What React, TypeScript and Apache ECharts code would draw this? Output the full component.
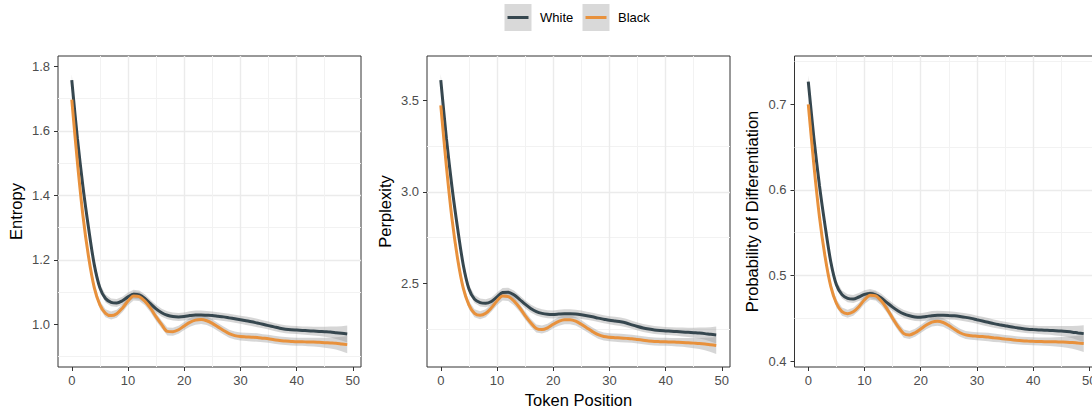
import React, { useEffect, useRef } from "react";
import * as echarts from "echarts";

// ---------------- data ----------------
const tokenPositions = [
  0, 1, 2, 3, 4, 5, 6, 7, 8, 9, 10, 11, 12, 13, 14, 15, 16, 17, 18, 19, 20, 21, 22, 23, 24,
  25, 26, 27, 28, 29, 30, 31, 32, 33, 34, 35, 36, 37, 38, 39, 40, 41, 42, 43, 44, 45, 46, 47, 48, 49,
];

const groups = ["White", "Black"];
const xTicks = [0, 10, 20, 30, 40, 50];

const entropyWhite = [
  1.757, 1.577, 1.425, 1.297, 1.185, 1.113, 1.08, 1.068, 1.066, 1.073, 1.085, 1.093, 1.091, 1.08, 1.064,
  1.048, 1.036, 1.028, 1.024, 1.023, 1.024, 1.027, 1.029, 1.029, 1.028, 1.027, 1.025, 1.023, 1.02, 1.017,
  1.014, 1.011, 1.008, 1.004, 1.0, 0.996, 0.992, 0.988, 0.985, 0.983, 0.982, 0.981, 0.98, 0.979, 0.978,
  0.977, 0.976, 0.974, 0.972, 0.97,
];
const entropyBlack = [
  1.697, 1.503, 1.335, 1.208, 1.114, 1.06, 1.034, 1.027, 1.033, 1.05, 1.072, 1.088, 1.086, 1.072, 1.05,
  1.023, 0.999, 0.978, 0.977, 0.983, 0.995, 1.006, 1.013, 1.015, 1.011, 1.003, 0.992, 0.981, 0.971, 0.965,
  0.962, 0.961, 0.96, 0.959, 0.957, 0.955, 0.952, 0.95, 0.948, 0.947, 0.946, 0.946, 0.945, 0.945, 0.944,
  0.943, 0.942, 0.941, 0.939, 0.937,
];
const entropySE = [
  0.0186, 0.0155, 0.014, 0.013, 0.0124, 0.0124, 0.0124, 0.0124, 0.0124, 0.0124, 0.0133, 0.014, 0.014, 0.0133,
  0.0124, 0.0124, 0.0124, 0.0124, 0.0124, 0.0124, 0.0124, 0.0133, 0.014, 0.014, 0.0133, 0.013, 0.0124, 0.0124,
  0.0124, 0.0124, 0.0124, 0.013, 0.0133, 0.013, 0.0124, 0.0124, 0.0124, 0.0124, 0.0124, 0.0124, 0.0124, 0.0124,
  0.013, 0.0136, 0.0146, 0.0155, 0.0171, 0.0192, 0.0223, 0.0264,
];

const perplexityWhite = [
  3.612, 3.294, 3.025, 2.799, 2.6, 2.47, 2.413, 2.394, 2.39, 2.4, 2.425, 2.449, 2.451, 2.437, 2.412, 2.385,
  2.362, 2.345, 2.335, 2.33, 2.329, 2.331, 2.333, 2.333, 2.331, 2.327, 2.322, 2.316, 2.309, 2.303, 2.297,
  2.293, 2.289, 2.282, 2.272, 2.263, 2.255, 2.249, 2.244, 2.241, 2.239, 2.237, 2.235, 2.233, 2.231, 2.229,
  2.227, 2.224, 2.22, 2.217,
];
const perplexityBlack = [
  3.473, 3.14, 2.852, 2.633, 2.473, 2.381, 2.335, 2.324, 2.335, 2.365, 2.403, 2.43, 2.427, 2.403, 2.367,
  2.323, 2.284, 2.252, 2.246, 2.256, 2.275, 2.291, 2.3, 2.3, 2.292, 2.275, 2.255, 2.235, 2.218, 2.208, 2.204,
  2.202, 2.2, 2.198, 2.196, 2.192, 2.188, 2.184, 2.181, 2.18, 2.179, 2.178, 2.177, 2.176, 2.174, 2.172, 2.17,
  2.167, 2.163, 2.159,
];
const perplexitySE = [
  0.0328, 0.0274, 0.0246, 0.023, 0.0219, 0.0219, 0.0219, 0.0219, 0.0219, 0.0219, 0.0235, 0.0246, 0.0246,
  0.0235, 0.0219, 0.0219, 0.0219, 0.0219, 0.0219, 0.0219, 0.0219, 0.0235, 0.0246, 0.0246, 0.0235, 0.023,
  0.0219, 0.0219, 0.0219, 0.0219, 0.0219, 0.023, 0.0235, 0.023, 0.0219, 0.0219, 0.0219, 0.0219, 0.0219,
  0.0219, 0.0219, 0.0219, 0.023, 0.0241, 0.0257, 0.0274, 0.0301, 0.0339, 0.0394, 0.0465,
];

const probWhite = [
  0.7265, 0.6605, 0.6046, 0.5576, 0.516, 0.489, 0.4776, 0.4733, 0.4725, 0.4748, 0.4778, 0.4788, 0.4772,
  0.4735, 0.4682, 0.463, 0.4585, 0.455, 0.4528, 0.4515, 0.4512, 0.452, 0.453, 0.4535, 0.4535, 0.4533, 0.4528,
  0.452, 0.451, 0.4498, 0.4482, 0.4467, 0.4452, 0.4437, 0.4424, 0.4412, 0.44, 0.439, 0.438, 0.4372, 0.4367,
  0.4363, 0.436, 0.4357, 0.4354, 0.435, 0.4344, 0.4337, 0.4328, 0.432,
];
const probBlack = [
  0.7, 0.629, 0.5679, 0.5214, 0.4871, 0.4675, 0.4577, 0.4553, 0.4575, 0.4635, 0.4715, 0.4768, 0.476, 0.47,
  0.461, 0.45, 0.44, 0.432, 0.4305, 0.433, 0.4375, 0.442, 0.4455, 0.4465, 0.445, 0.4415, 0.437, 0.433, 0.4305,
  0.4295, 0.429, 0.4285, 0.428, 0.4272, 0.4265, 0.4257, 0.425, 0.4243, 0.4237, 0.4233, 0.423, 0.4228, 0.4226,
  0.4225, 0.4224, 0.4222, 0.422, 0.4216, 0.421, 0.4205,
];
const probSE = [
  0.007, 0.0058, 0.0053, 0.0049, 0.0047, 0.0047, 0.0047, 0.0047, 0.0047, 0.0047, 0.005, 0.0053, 0.0053, 0.005,
  0.0047, 0.0047, 0.0047, 0.0047, 0.0047, 0.0047, 0.0047, 0.005, 0.0053, 0.0053, 0.005, 0.0049, 0.0047, 0.0047,
  0.0047, 0.0047, 0.0047, 0.0049, 0.005, 0.0049, 0.0047, 0.0047, 0.0047, 0.0047, 0.0047, 0.0047, 0.0047,
  0.0047, 0.0049, 0.0051, 0.0055, 0.0058, 0.0064, 0.0072, 0.0084, 0.0099,
];

const entropyTicks = [1.0, 1.2, 1.4, 1.6, 1.8];
const perplexityTicks = [2.5, 3.0, 3.5];
const probTicks = [0.4, 0.5, 0.6, 0.7];

// ---------------- styling ----------------
const COLORS: Record<string, string> = { White: "#36474F", Black: "#E8913C" };
const RIBBON = "rgba(153,153,153,0.4)";
const FONT = "'Liberation Sans', Arial, Helvetica, sans-serif";
const GRID_MAJOR = "#EBEBEB";
const GRID_MINOR = "#F2F2F2";
const BORDER = "#333333";

const panels = [
  {
    title: "Entropy",
    values: { White: entropyWhite, Black: entropyBlack } as Record<string, number[]>,
    se: entropySE,
    ticks: entropyTicks,
    interval: 0.2,
    yMin: 0.8676,
    yMax: 1.832,
    left: 58,
  },
  {
    title: "Perplexity",
    values: { White: perplexityWhite, Black: perplexityBlack } as Record<string, number[]>,
    se: perplexitySE,
    ticks: perplexityTicks,
    interval: 0.5,
    yMin: 2.0413,
    yMax: 3.7436,
    left: 427,
  },
  {
    title: "Probability of Differentiation",
    values: { White: probWhite, Black: probBlack } as Record<string, number[]>,
    se: probSE,
    ticks: probTicks,
    interval: 0.1,
    yMin: 0.393,
    yMax: 0.7564,
    left: 794.5,
  },
];

const GRID_TOP = 56;
const GRID_H = 311;
const GRID_W = 303;

function buildOption() {
  const grid: any[] = [];
  const xAxis: any[] = [];
  const yAxis: any[] = [];
  const series: any[] = [];

  panels.forEach((p, i) => {
    grid.push({
      left: p.left,
      top: GRID_TOP,
      width: GRID_W,
      height: GRID_H,
      show: true,
      backgroundColor: "#FFFFFF",
      borderColor: BORDER,
      borderWidth: 1,
      containLabel: false,
      outerBoundsMode: "none",
    });
    xAxis.push({
      type: "value",
      gridIndex: i,
      position: "bottom",
      min: -2.45,
      max: 51.45,
      minInterval: 10,
      maxInterval: 10,
      axisLine: { show: false, onZero: false },
      axisTick: {
        show: true,
        length: 4,
        customValues: xTicks,
        lineStyle: { color: BORDER, width: 1 },
      },
      axisLabel: {
        customValues: xTicks,
        showMinLabel: true,
        showMaxLabel: true,
        color: "#4D4D4D",
        fontSize: 13,
        fontFamily: FONT,
        margin: 7,
        formatter: (v: number) => String(Math.round(v)),
      },
      splitLine: {
        show: true,
        showMinLine: false,
        showMaxLine: false,
        lineStyle: { color: GRID_MAJOR, width: 1.4 },
      },
      minorTick: { show: false, splitNumber: 2 },
      minorSplitLine: { show: true, lineStyle: { color: GRID_MINOR, width: 1 } },
      name: i === 1 ? "Token Position" : "",
      nameLocation: "middle",
      nameGap: 22,
      nameTextStyle: { color: "#000000", fontSize: 16.5, fontFamily: FONT },
    });
    yAxis.push({
      type: "value",
      gridIndex: i,
      position: "left",
      min: p.yMin,
      max: p.yMax,
      minInterval: p.interval,
      maxInterval: p.interval,
      axisLine: { show: false, onZero: false },
      axisTick: {
        show: true,
        length: 4,
        customValues: p.ticks,
        lineStyle: { color: BORDER, width: 1 },
      },
      axisLabel: {
        customValues: p.ticks,
        color: "#4D4D4D",
        fontSize: 13,
        fontFamily: FONT,
        margin: 8,
        formatter: (v: number) => v.toFixed(1),
      },
      splitLine: {
        show: true,
        showMinLine: false,
        showMaxLine: false,
        lineStyle: { color: GRID_MAJOR, width: 1.4 },
      },
      minorTick: { show: false, splitNumber: 2 },
      minorSplitLine: { show: true, lineStyle: { color: GRID_MINOR, width: 1 } },
      name: p.title,
      nameLocation: "middle",
      nameGap: 34,
      nameTextStyle: { color: "#000000", fontSize: 16.5, fontFamily: FONT },
    });

    groups.forEach((g) => {
      const vals = p.values[g];
      const se = p.se;
      // confidence ribbon as one polygon through the axis scales
      series.push({
        type: "custom",
        xAxisIndex: i,
        yAxisIndex: i,
        silent: true,
        data: tokenPositions.map((x, k) => [x, vals[k] - se[k], vals[k] + se[k]]),
        encode: { x: 0, y: [1, 2] },
        renderItem: (params: any, api: any) => {
          if (params.dataIndex !== 0) return null;
          const upper = tokenPositions.map((x, k) => api.coord([x, vals[k] + se[k]]));
          const lower = tokenPositions.map((x, k) => api.coord([x, vals[k] - se[k]])).reverse();
          return {
            type: "polygon",
            shape: { points: upper.concat(lower) },
            style: { fill: RIBBON, stroke: "none" },
          };
        },
      });
      series.push({
        type: "line",
        name: g,
        xAxisIndex: i,
        yAxisIndex: i,
        data: tokenPositions.map((x, k) => [x, vals[k]]),
        smooth: 0.3,
        symbol: "none",
        silent: true,
        lineStyle: { width: 3, color: COLORS[g] },
        itemStyle: { color: COLORS[g] },
      });
    });
  });

  // legend drawn as ggplot-style keys
  const legendKeys = [
    { label: groups[0], boxX: 504.5, textX: 540 },
    { label: groups[1], boxX: 582.5, textX: 618 },
  ];
  const graphic: any[] = [];
  legendKeys.forEach((k) => {
    graphic.push({
      type: "rect",
      shape: { x: k.boxX, y: 4, width: 27, height: 27 },
      style: { fill: "#D9D9D9" },
      silent: true,
    });
    graphic.push({
      type: "line",
      shape: { x1: k.boxX + 3, y1: 17.5, x2: k.boxX + 24, y2: 17.5 },
      style: { stroke: COLORS[k.label], lineWidth: 3 },
      silent: true,
    });
    graphic.push({
      type: "text",
      x: k.textX,
      y: 17.5,
      style: {
        text: k.label,
        fill: "#000000",
        fontSize: 13,
        fontFamily: FONT,
        verticalAlign: "middle",
        align: "left",
      },
      silent: true,
    });
  });

  return {
    animation: false,
    backgroundColor: "#FFFFFF",
    grid,
    xAxis,
    yAxis,
    series,
    graphic,
  };
}

export default function App() {
  const ref = useRef<HTMLDivElement | null>(null);
  useEffect(() => {
    if (!ref.current) return;
    const chart = echarts.init(ref.current, undefined, { renderer: "svg" });
    chart.setOption(buildOption() as any);
    return () => chart.dispose();
  }, []);
  return (
    <div
      ref={ref}
      style={{ position: "fixed", left: 0, top: 0, width: 1092, height: 410, background: "#fff" }}
    />
  );
}
